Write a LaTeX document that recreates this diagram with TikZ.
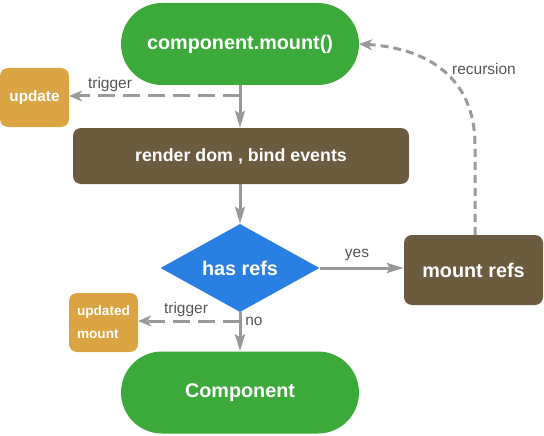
\documentclass[tikz,border=0pt]{standalone}
\usepackage{fontspec}
\setmainfont{Liberation Sans}
\usetikzlibrary{shapes.geometric,shapes.misc,arrows.meta}
\definecolor{cgreen}{HTML}{3BAA3B}
\definecolor{corange}{HTML}{DAA442}
\definecolor{cbrown}{HTML}{6C5B3F}
\definecolor{cblue}{HTML}{2A7FE3}
\definecolor{cline}{HTML}{999999}
\definecolor{ctext}{HTML}{555555}
\tikzset{
  stadium/.style={rounded rectangle, fill=cgreen, text=white, minimum width=238pt, minimum height=82pt, inner sep=0pt, font=\fontsize{19.8}{22}\selectfont\bfseries},
  brownbox/.style={rectangle, rounded corners=8pt, fill=cbrown, text=white, inner sep=0pt, font=\fontsize{19.8}{22}\selectfont\bfseries},
  orangebox/.style={rectangle, rounded corners=8pt, fill=corange, text=white, inner sep=0pt, minimum width=69pt, minimum height=59pt, align=left},
  decision/.style={diamond, fill=cblue, text=white, aspect=1.8, inner sep=0pt, minimum width=159pt, minimum height=88pt, font=\fontsize{19.8}{22}\selectfont\bfseries},
  flow/.style={draw=cline, line width=3pt, -{Stealth[length=17pt,width=10pt,inset=3pt]}},
  dflow/.style={draw=cline, line width=3pt, dash pattern=on 17pt off 8pt, -{Stealth[length=13pt,width=11pt,inset=4pt]}},
  rflow/.style={draw=cline, line width=3pt, dash pattern=on 8pt off 5pt, -{Stealth[length=13pt,width=11pt,inset=4pt]}},
  lbl/.style={text=ctext, font=\fontsize{15.5}{18}\selectfont, inner sep=0pt}
}
\begin{document}
\begin{tikzpicture}[x=1pt,y=-1pt]
\useasboundingbox (0,0) rectangle (544,436);
\node[stadium] (mount) at (240,44) {component.mount()};
\node[orangebox, font=\fontsize{15.3}{17}\selectfont\bfseries] (update) at (34.5,97.5) {update};
\node[brownbox, minimum width=336pt, minimum height=56pt, font=\fontsize{17.8}{20}\selectfont\bfseries] (render) at (241,156) {render dom , bind events};
\node[decision] (refs) at (240,268) {has refs};
\node[brownbox, minimum width=139pt, minimum height=70pt] (mrefs) at (473.5,270) {mount refs};
\node[orangebox, font=\fontsize{13.6}{23}\selectfont\bfseries] (umount) at (103.5,322.5) {updated\\mount};
\node[stadium] (comp) at (240,392.5) {Component};
\coordinate (t1) at (240,96);
\coordinate (t2) at (240,321);
\coordinate (rc) at (475,145);
\draw[flow] (mount.south) -- (render.north -| mount.south);
\draw[dflow] (t1) -- (update.east |- t1);
\draw[flow] (render.south -| refs.north) -- (refs.north);
\draw[flow] (refs.east) -- (mrefs.west |- refs.east);
\draw[flow] (refs.south) -- (comp.north);
\draw[dflow] (t2) -- (umount.east |- t2);
\draw[rflow] (mrefs.north -| rc) -- (rc) .. controls (475,78) and (428,48) .. (mount.east);
\node[lbl] at (110,84) {trigger};
\node[lbl] at (186,309) {trigger};
\node[lbl] at (357,255) {yes};
\node[lbl] at (254,321) {no};
\node[lbl] at (484,69) {recursion};
\end{tikzpicture}
\end{document}
